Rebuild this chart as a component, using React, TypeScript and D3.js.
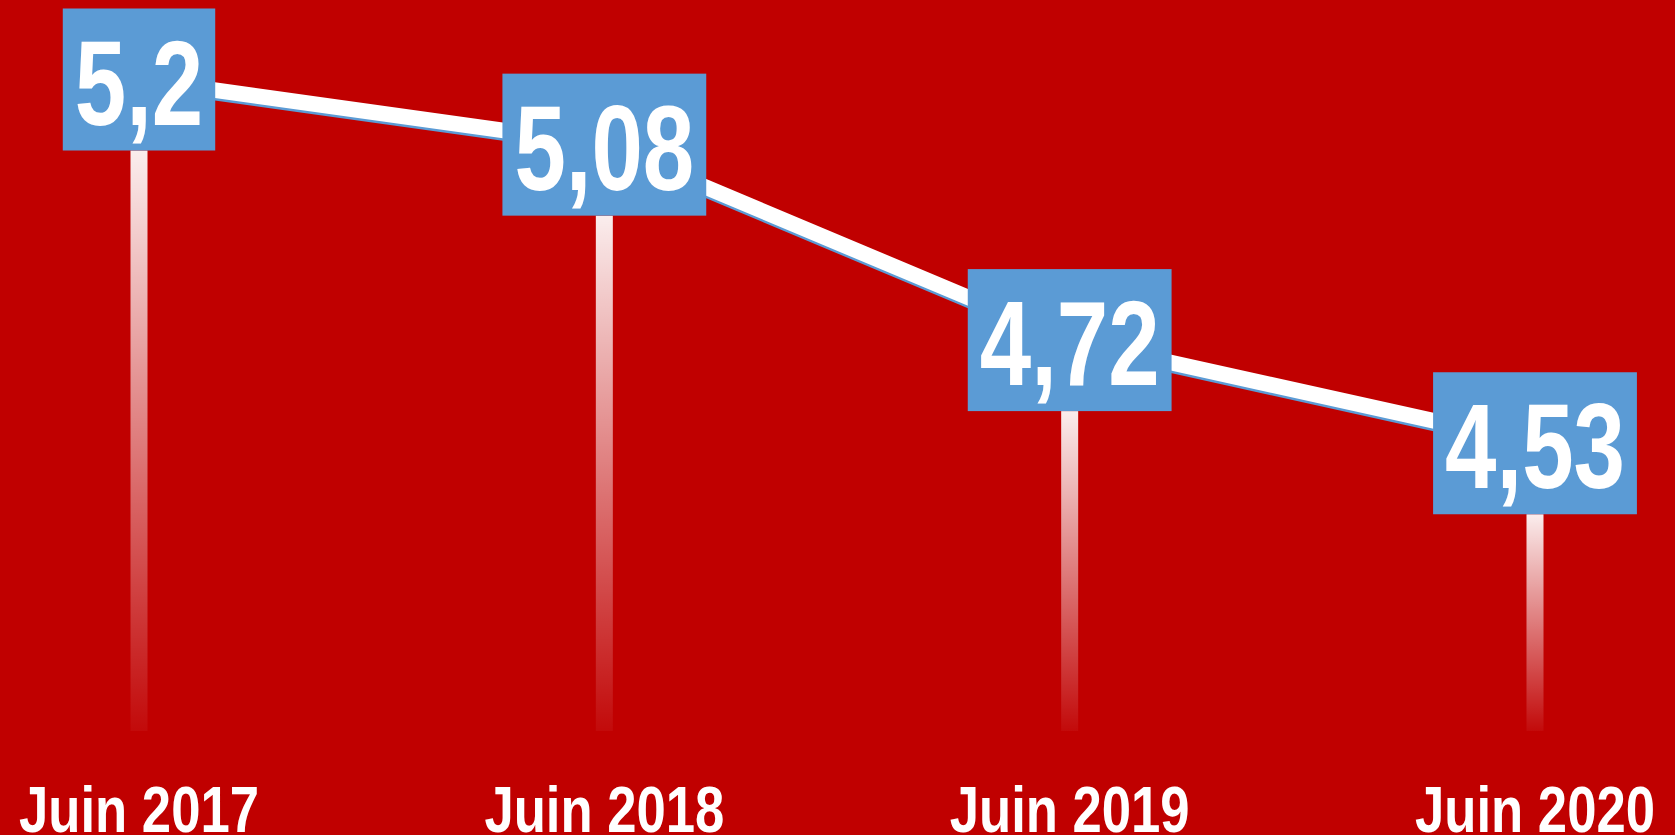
import React, { useEffect, useRef } from "react";
import * as d3 from "d3";

const categories = ["Juin 2017", "Juin 2018", "Juin 2019", "Juin 2020"];
const values = [5.2, 5.08, 4.72, 4.53];
const valueLabels = ["5,2", "5,08", "4,72", "4,53"];

const W = 1675;
const H = 835;
const BG = "#C00000";
const BOX = "#5B9BD5";
const FONT = "'Liberation Sans', Arial, Helvetica, sans-serif";

export default function App() {
  const ref = useRef<SVGSVGElement>(null);

  useEffect(() => {
    const svg = d3.select(ref.current);
    svg.selectAll("*").remove();

    const x = d3.scalePoint<string>().domain(categories).range([139, 1535]);
    const y = d3.scaleLinear().domain([4, 5.2]).range([731, 79.5]);
    const data = categories.map((c, i) => ({ c, v: values[i], label: valueLabels[i] }));

    const defs = svg.append("defs");
    const grad = defs
      .append("linearGradient")
      .attr("id", "dropGrad")
      .attr("x1", 0)
      .attr("y1", 0)
      .attr("x2", 0)
      .attr("y2", 1);
    grad.append("stop").attr("offset", "0%").attr("stop-color", "#fff").attr("stop-opacity", 0.93);
    grad.append("stop").attr("offset", "100%").attr("stop-color", "#fff").attr("stop-opacity", 0.04);

    svg.append("rect").attr("width", W).attr("height", H).attr("fill", BG);

    const boxH = 142;
    const boxTopOff = 71;

    // drop lines
    svg
      .append("g")
      .selectAll("rect")
      .data(data)
      .join("rect")
      .attr("x", (d) => (x(d.c) as number) - 8.5)
      .attr("width", 17)
      .attr("y", (d) => y(d.v) + boxTopOff)
      .attr("height", (d) => y(4) - (y(d.v) + boxTopOff))
      .attr("fill", "url(#dropGrad)");

    const line = d3
      .line<{ c: string; v: number }>()
      .x((d) => x(d.c) as number)
      .y((d) => y(d.v));

    svg
      .append("path")
      .attr("d", line(data))
      .attr("transform", "translate(0,2.5)")
      .attr("fill", "none")
      .attr("stroke", BOX)
      .attr("stroke-width", 15.5);
    svg
      .append("path")
      .attr("d", line(data))
      .attr("fill", "none")
      .attr("stroke", "#fff")
      .attr("stroke-width", 15.5);

    const sx = 0.77;
    const groups = svg
      .append("g")
      .selectAll("g")
      .data(data)
      .join("g");

    groups.each(function (d) {
      const g = d3.select(this);
      const cx = x(d.c) as number;
      const cy = y(d.v);
      const rect = g.append("rect").attr("fill", BOX);
      const t = g
        .append("text")
        .attr("transform", `translate(${cx},${cy + 45}) scale(${sx},1)`)
        .attr("text-anchor", "middle")
        .attr("font-family", FONT)
        .attr("font-weight", "bold")
        .attr("font-size", 120)
        .attr("fill", "#fff")
        .text(d.label);
      let tw = 0;
      try {
        tw = (t.node() as SVGTextElement).getBBox().width * sx;
      } catch (e) {
        tw = 0;
      }
      if (!tw) tw = d.label.length * 0.5 * 120 * sx;
      const bw = tw + 24;
      rect
        .attr("x", cx - bw / 2)
        .attr("y", cy - boxTopOff)
        .attr("width", bw)
        .attr("height", boxH);
    });

    svg
      .append("g")
      .selectAll("text")
      .data(categories)
      .join("text")
      .attr("transform", (d) => `translate(${x(d)},832) scale(0.81,1)`)
      .attr("text-anchor", "middle")
      .attr("font-family", FONT)
      .attr("font-weight", "bold")
      .attr("font-size", 65)
      .attr("fill", "#fff")
      .text((d) => d);
  }, []);

  return (
    <svg
      ref={ref}
      width={W}
      height={H}
      style={{ position: "absolute", left: 0, top: 0, display: "block" }}
    />
  );
}
